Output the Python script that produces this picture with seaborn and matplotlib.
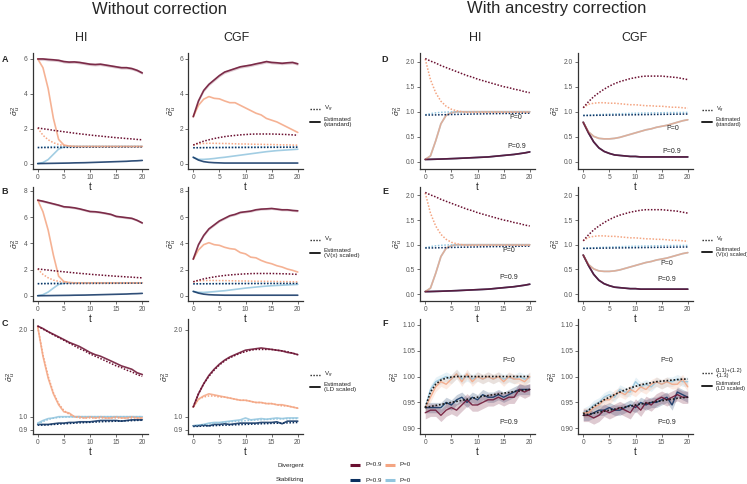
import numpy as np
import pandas as pd
import matplotlib
matplotlib.use("Agg")
import matplotlib.pyplot as plt
import seaborn as sns
from matplotlib.lines import Line2D

sns.set_theme(style="ticks")
plt.rcParams['font.family'] = ['Liberation Sans', 'DejaVu Sans']
plt.rcParams['mathtext.fontset'] = 'custom'
plt.rcParams['mathtext.rm'] = 'Liberation Sans'
plt.rcParams['mathtext.it'] = 'Liberation Sans:italic'

# ---------------- data ----------------
T = list(range(21))

# true genetic variance V_g (shared across rows)
HI_VG_DIV9 = [2.06,2.01,1.97,1.92,1.88,1.84,1.80,1.76,1.72,1.69,1.65,1.62,1.59,1.56,1.53,1.50,1.48,1.45,1.43,1.40,1.38]
HI_VG_DIV0 = [2.05,1.64,1.38,1.21,1.11,1.05,1.02,1.00,0.99,0.99,0.99,0.99,0.99,0.99,0.99,0.99,0.99,0.99,0.99,0.99,0.99]
HI_VG_STAB9 = [0.935,0.935,0.937,0.94,0.942,0.945,0.947,0.95,0.952,0.954,0.956,0.958,0.96,0.962,0.963,0.965,0.966,0.968,0.969,0.971,0.972]
HI_VG_STAB0 = [0.94,0.962,0.978,0.988,0.994,0.997,0.998,0.999,1.0,1.0,1.0,1.0,1.0,1.0,1.0,1.0,1.0,1.0,1.0,1.0,1.0]
CGF_VG_DIV9 = [1.08,1.2,1.3,1.38,1.45,1.51,1.56,1.6,1.63,1.66,1.68,1.7,1.71,1.71,1.71,1.71,1.7,1.69,1.68,1.66,1.64]
CGF_VG_DIV0 = [1.08,1.15,1.17,1.18,1.18,1.17,1.17,1.16,1.15,1.14,1.14,1.13,1.12,1.12,1.11,1.11,1.1,1.09,1.09,1.08,1.07]
CGF_VG_STAB9 = [0.925,0.926,0.928,0.93,0.931,0.933,0.934,0.936,0.937,0.939,0.94,0.942,0.943,0.945,0.946,0.948,0.949,0.95,0.952,0.953,0.955]
CGF_VG_STAB0 = [0.928,0.933,0.938,0.943,0.948,0.952,0.956,0.96,0.963,0.966,0.969,0.972,0.974,0.976,0.978,0.98,0.982,0.983,0.984,0.985,0.986]

# A: estimated (standard)
A_HI_DIV9 = [6.0,6.0,5.97,5.95,5.92,5.85,5.82,5.83,5.8,5.75,5.7,5.68,5.7,5.65,5.6,5.55,5.5,5.5,5.45,5.35,5.2]
A_HI_DIV0 = [6.0,5.5,4.3,2.6,1.4,1.08,1.02,1.0,1.0,1.0,1.0,1.0,1.0,1.0,1.0,1.0,1.0,1.0,1.0,1.0,1.0]
A_HI_STAB9 = [0.02,0.025,0.03,0.035,0.04,0.045,0.05,0.06,0.065,0.07,0.08,0.09,0.1,0.11,0.12,0.13,0.14,0.15,0.17,0.18,0.2]
A_HI_STAB0 = [0.02,0.08,0.25,0.55,0.85,0.97,1.0,1.0,1.0,1.0,1.0,1.0,1.0,1.0,1.0,1.0,1.0,1.0,1.0,1.0,1.0]
A_CGF_DIV9 = [2.7,3.6,4.2,4.55,4.8,5.05,5.25,5.35,5.45,5.55,5.6,5.65,5.72,5.78,5.85,5.8,5.78,5.75,5.78,5.8,5.72]
A_CGF_DIV0 = [2.7,3.35,3.7,3.85,3.75,3.72,3.6,3.5,3.5,3.35,3.2,3.05,2.9,2.8,2.6,2.5,2.4,2.25,2.1,1.95,1.8]
A_CGF_STAB9 = [0.38,0.22,0.13,0.09,0.07,0.06,0.05,0.05,0.05,0.05,0.05,0.05,0.05,0.05,0.05,0.05,0.05,0.05,0.05,0.05,0.05]
A_CGF_STAB0 = [0.38,0.26,0.26,0.28,0.31,0.35,0.38,0.42,0.46,0.5,0.54,0.58,0.62,0.66,0.7,0.73,0.76,0.78,0.8,0.82,0.84]

# B: estimated (V(x) scaled)
B_HI_DIV9 = [7.28,7.2,7.1,7.0,6.9,6.78,6.75,6.7,6.62,6.52,6.42,6.4,6.35,6.28,6.2,6.05,6.0,5.95,5.9,5.75,5.55]
B_HI_DIV0 = [7.28,6.4,5.0,3.1,1.5,1.1,1.02,1.0,1.0,1.0,1.0,1.0,1.0,1.0,1.0,1.0,1.0,1.0,1.0,1.0,1.0]
B_HI_STAB9 = [0.02,0.025,0.03,0.035,0.04,0.045,0.05,0.06,0.065,0.07,0.08,0.09,0.1,0.11,0.12,0.13,0.14,0.15,0.17,0.18,0.2]
B_HI_STAB0 = [0.02,0.1,0.3,0.6,0.88,0.97,1.0,1.0,1.0,1.0,1.0,1.0,1.0,1.0,1.0,1.0,1.0,1.0,1.0,1.0,1.0]
B_CGF_DIV9 = [2.8,3.9,4.6,5.1,5.4,5.7,5.9,6.1,6.2,6.35,6.4,6.45,6.55,6.6,6.62,6.65,6.6,6.55,6.55,6.5,6.47]
B_CGF_DIV0 = [2.8,3.5,3.9,4.05,3.9,3.85,3.7,3.6,3.55,3.3,3.2,2.95,2.9,2.7,2.55,2.45,2.3,2.2,2.05,1.95,1.82]
B_CGF_STAB9 = [0.35,0.22,0.14,0.1,0.08,0.07,0.06,0.06,0.06,0.06,0.06,0.06,0.06,0.06,0.06,0.06,0.06,0.06,0.06,0.06,0.06]
B_CGF_STAB0 = [0.35,0.28,0.27,0.3,0.33,0.37,0.4,0.45,0.5,0.55,0.6,0.64,0.68,0.72,0.75,0.78,0.8,0.82,0.84,0.86,0.88]

# C: estimated (LD scaled)
C_HI_DIV9 = [2.06,2.02,1.97,1.93,1.89,1.85,1.81,1.78,1.75,1.71,1.67,1.64,1.62,1.59,1.56,1.53,1.5,1.48,1.46,1.42,1.4]
C_HI_DIV0 = [2.05,1.62,1.36,1.2,1.1,1.04,1.03,1.0,1.0,0.99,1.0,0.99,1.0,0.99,0.99,1.0,0.99,0.99,1.0,0.99,0.99]
C_HI_STAB9 = [0.94,0.94,0.94,0.945,0.95,0.95,0.955,0.955,0.96,0.96,0.96,0.965,0.97,0.97,0.97,0.97,0.965,0.97,0.975,0.975,0.975]
C_HI_STAB0 = [0.95,0.97,0.985,0.99,1.0,1.0,1.0,1.0,1.0,1.0,1.0,1.0,1.0,1.0,1.0,1.0,1.0,1.0,1.0,1.0,1.0]
C_CGF_DIV9 = [1.08,1.2,1.3,1.39,1.46,1.52,1.57,1.61,1.64,1.67,1.7,1.71,1.72,1.73,1.72,1.71,1.7,1.69,1.67,1.66,1.64]
C_CGF_DIV0 = [1.08,1.15,1.18,1.2,1.19,1.18,1.17,1.16,1.15,1.14,1.14,1.13,1.12,1.12,1.11,1.11,1.1,1.1,1.09,1.08,1.07]
C_CGF_STAB9 = [0.93,0.93,0.935,0.93,0.94,0.94,0.945,0.94,0.945,0.95,0.95,0.95,0.95,0.955,0.955,0.955,0.96,0.945,0.965,0.965,0.965]
C_CGF_STAB0 = [0.93,0.935,0.94,0.95,0.955,0.955,0.96,0.965,0.97,0.975,0.99,0.975,0.98,0.985,0.98,0.985,0.99,0.985,0.99,0.99,0.99]

# D / E: estimated with ancestry correction (divergent and stabilizing coincide)
DE_HI_P0 = [0.05,0.12,0.42,0.76,0.93,0.98,1.0,1.0,1.0,1.0,1.0,1.0,1.0,1.0,1.0,1.0,1.0,1.0,1.0,1.0,1.0]
DE_HI_P9 = [0.05,0.052,0.055,0.058,0.062,0.066,0.07,0.075,0.08,0.085,0.09,0.095,0.1,0.11,0.12,0.13,0.14,0.15,0.165,0.18,0.2]
DE_CGF_P0 = [0.79,0.6,0.51,0.47,0.46,0.46,0.47,0.49,0.52,0.55,0.58,0.61,0.64,0.66,0.69,0.71,0.73,0.76,0.79,0.82,0.84]
DE_CGF_P9 = [0.79,0.58,0.4,0.28,0.21,0.17,0.14,0.13,0.12,0.11,0.11,0.1,0.1,0.1,0.1,0.1,0.1,0.1,0.1,0.1,0.1]

# F: theory (1.1)+(1.2)-(1.3) and LD-scaled estimates
F_HI_TH0 = [0.94,0.97,0.985,0.993,0.997,0.999,1.0,1.0,1.0,1.0,1.0,1.0,1.0,1.0,1.0,1.0,1.0,1.0,1.0,1.0,1.0]
F_HI_TH9 = [0.94,0.942,0.944,0.946,0.948,0.95,0.952,0.954,0.956,0.958,0.96,0.962,0.963,0.965,0.966,0.968,0.969,0.971,0.972,0.974,0.975]
F_HI_DIV9 = [0.93,0.935,0.935,0.925,0.935,0.94,0.935,0.945,0.955,0.945,0.945,0.95,0.955,0.955,0.96,0.955,0.96,0.96,0.975,0.97,0.975]
F_HI_DIV0 = [0.94,0.96,0.98,0.99,0.985,0.995,1.005,0.99,1.005,0.99,1.0,0.995,1.0,0.995,1.0,0.99,1.0,0.995,0.995,0.99,1.0]
F_HI_STAB9 = [0.94,0.94,0.94,0.94,0.95,0.945,0.955,0.96,0.95,0.96,0.955,0.965,0.96,0.96,0.965,0.96,0.965,0.97,0.975,0.975,0.975]
F_HI_STAB0 = [0.94,0.975,0.99,0.995,1.0,0.995,1.005,0.995,1.0,0.995,1.0,0.995,1.0,0.995,1.0,0.995,0.998,0.995,1.0,0.995,0.998]
F_CGF_TH0 = [0.928,0.935,0.942,0.949,0.955,0.96,0.965,0.97,0.974,0.978,0.981,0.984,0.986,0.988,0.99,0.991,0.992,0.993,0.994,0.995,0.995]
F_CGF_TH9 = [0.925,0.927,0.929,0.931,0.933,0.935,0.937,0.939,0.941,0.943,0.945,0.947,0.948,0.95,0.952,0.953,0.955,0.956,0.958,0.959,0.96]
F_CGF_DIV9 = [0.925,0.925,0.92,0.925,0.935,0.93,0.935,0.94,0.935,0.93,0.945,0.935,0.95,0.945,0.955,0.96,0.955,0.96,0.965,0.96,0.96]
F_CGF_DIV0 = [0.93,0.93,0.94,0.945,0.955,0.955,0.965,0.97,0.965,0.975,0.97,0.98,0.975,0.985,0.99,0.985,0.99,0.985,0.985,0.995,0.98]
F_CGF_STAB9 = [0.925,0.925,0.93,0.935,0.935,0.94,0.935,0.935,0.94,0.945,0.94,0.95,0.945,0.95,0.95,0.955,0.96,0.945,0.97,0.965,0.96]
F_CGF_STAB0 = [0.93,0.935,0.945,0.95,0.96,0.965,0.96,0.975,0.97,0.97,0.99,0.98,0.985,0.98,0.99,0.985,0.99,0.99,0.995,0.99,0.99]
F_BAND = {"div9": 0.012, "div0": 0.009, "stab9": 0.010, "stab0": 0.009}
AB_BAND_DIV9 = 0.08

LABELS_DIV = ["P=0.9", "P=0"]
COL_TITLES = ["HI", "CGF", "HI", "CGF"]

# ---------------- style ----------------
C_DIV9 = "#6a0f30"
C_DIV0 = "#F4A582"
C_STAB9 = "#0b3060"
C_STAB0 = "#92C5DE"
COLORS = {"div9": C_DIV9, "div0": C_DIV0, "stab9": C_STAB9, "stab0": C_STAB0}
DOT = (0, (1, 1.1))

W, H = 747, 484
fig = plt.figure(figsize=(W / 100, H / 100), dpi=100)


def px_axes(left, top, width, height):
    ax = fig.add_axes([left / W, 1 - (top + height) / H, width / W, height / H])
    ax.patch.set_alpha(0)
    return ax


def fx(x):
    return x / W


def fy(y):
    return 1 - y / H


def line(ax, y, color, ls="-", lw=1.1, alpha=1.0, band=None, z=2):
    df = pd.DataFrame({"t": T, "v": y})
    if band is not None:
        arr = np.asarray(y)
        ax.fill_between(T, arr - band, arr + band, color=color, alpha=0.22, lw=0, zorder=z - 0.5)
    sns.lineplot(data=df, x="t", y="v", ax=ax, color=color, linestyle=ls, lw=lw,
                 alpha=alpha, zorder=z, legend=False)


def style_axes(ax, ylim, yticks, ylabels, log=False):
    if log:
        ax.set_yscale("log")
    ax.set_xlim(-1, 21)
    ax.set_ylim(*ylim)
    ax.set_xticks([0, 5, 10, 15, 20])
    ax.set_yticks(yticks)
    ax.set_yticklabels(ylabels)
    ax.minorticks_off()
    sns.despine(ax=ax)
    for s in ("left", "bottom"):
        ax.spines[s].set_color("#333333")
        ax.spines[s].set_linewidth(0.9)
    ax.tick_params(length=2, width=0.6, color="#555555", labelsize=4.8,
                   labelcolor="#555555", pad=1.5)
    ax.set_xlabel("t", fontsize=7, labelpad=0.5)
    ax.set_ylabel(r"$\hat{\sigma}^2_u$", fontsize=6, labelpad=0.5)


COL_LEFT = [32.5, 188, 420, 578]
AX_W = 115
ROWS = [(53, 116), (187, 114), (319, 115)]

Y_A = ((-0.29, 6.34), [0, 2, 4, 6], ["0", "2", "4", "6"])
Y_B = ((-0.38, 8.28), [0, 2, 4, 6, 8], ["0", "2", "4", "6", "8"])
Y_C = ((0.871, 2.18), [0.9, 1.0, 2.0], ["0.9", "1.0", "2.0"])
Y_DE = ((-0.14, 2.17), [0, 0.5, 1.0, 1.5, 2.0], ["0.0", "0.5", "1.0", "1.5", "2.0"])
Y_F = ((0.889, 1.111), [0.9, 0.95, 1.0, 1.05, 1.1], ["0.90", "0.95", "1.00", "1.05", "1.10"])

VG = {
    0: {"div9": HI_VG_DIV9, "div0": HI_VG_DIV0, "stab9": HI_VG_STAB9, "stab0": HI_VG_STAB0},
    1: {"div9": CGF_VG_DIV9, "div0": CGF_VG_DIV0, "stab9": CGF_VG_STAB9, "stab0": CGF_VG_STAB0},
}
EST_LEFT = {
    (0, 0): {"div9": A_HI_DIV9, "div0": A_HI_DIV0, "stab9": A_HI_STAB9, "stab0": A_HI_STAB0},
    (0, 1): {"div9": A_CGF_DIV9, "div0": A_CGF_DIV0, "stab9": A_CGF_STAB9, "stab0": A_CGF_STAB0},
    (1, 0): {"div9": B_HI_DIV9, "div0": B_HI_DIV0, "stab9": B_HI_STAB9, "stab0": B_HI_STAB0},
    (1, 1): {"div9": B_CGF_DIV9, "div0": B_CGF_DIV0, "stab9": B_CGF_STAB9, "stab0": B_CGF_STAB0},
    (2, 0): {"div9": C_HI_DIV9, "div0": C_HI_DIV0, "stab9": C_HI_STAB9, "stab0": C_HI_STAB0},
    (2, 1): {"div9": C_CGF_DIV9, "div0": C_CGF_DIV0, "stab9": C_CGF_STAB9, "stab0": C_CGF_STAB0},
}
YSPEC_LEFT = [Y_A, Y_B, Y_C]
ORDER = ["stab0", "stab9", "div0", "div9"]

# ---- left block: without correction ----
for r in range(3):
    for c in range(2):
        top, h = ROWS[r]
        ax = px_axes(COL_LEFT[c], top, AX_W, h)
        est = EST_LEFT[(r, c)]
        for k in ORDER:
            band = AB_BAND_DIV9 if (k == "div9" and r < 2) else None
            line(ax, est[k], COLORS[k], lw=1.2, alpha=0.85, band=band, z=2)
        for k in ORDER:
            line(ax, VG[c][k], COLORS[k], ls=DOT, lw=1.1, z=3)
        ylim, yt, yl = YSPEC_LEFT[r]
        style_axes(ax, ylim, yt, yl, log=(r == 2))

# ---- right block: with ancestry correction ----
DE_EST = {0: (DE_HI_P0, DE_HI_P9), 1: (DE_CGF_P0, DE_CGF_P9)}
DE_TXT = {
    (0, 0): ((17.3, 0.88), (17.5, 0.31)),
    (0, 1): ((17.1, 0.67), (17.0, 0.21)),
    (1, 0): ((16.0, 0.89), (16.0, 0.33)),
    (1, 1): ((15.9, 0.62), (15.9, 0.29)),
}
for r in range(2):
    for c in range(2):
        top, h = ROWS[r]
        ax = px_axes(COL_LEFT[c + 2], top, AX_W, h)
        p0, p9 = DE_EST[c]
        line(ax, p0, C_STAB0, lw=1.2, alpha=0.9)
        line(ax, p9, C_STAB9, lw=1.2, alpha=0.9)
        line(ax, p0, C_DIV0, lw=1.2, alpha=0.75)
        line(ax, p9, C_DIV9, lw=1.2, alpha=0.75)
        for k in ORDER:
            line(ax, VG[c][k], COLORS[k], ls=DOT, lw=1.1, z=3)
        style_axes(ax, *Y_DE)
        (x0, y0), (x9, y9) = DE_TXT[(r, c)]
        ax.text(x0, y0, "P=0", fontsize=5, ha="center", va="center")
        ax.text(x9, y9, "P=0.9", fontsize=5, ha="center", va="center")

F_EST = {
    0: {"div9": F_HI_DIV9, "div0": F_HI_DIV0, "stab9": F_HI_STAB9, "stab0": F_HI_STAB0},
    1: {"div9": F_CGF_DIV9, "div0": F_CGF_DIV0, "stab9": F_CGF_STAB9, "stab0": F_CGF_STAB0},
}
F_TH = {0: (F_HI_TH0, F_HI_TH9), 1: (F_CGF_TH0, F_CGF_TH9)}
for c in range(2):
    top, h = ROWS[2]
    ax = px_axes(COL_LEFT[c + 2], top, AX_W, h)
    for k in ORDER:
        line(ax, F_EST[c][k], COLORS[k], lw=1.0, alpha=0.85, band=F_BAND[k])
    for th in F_TH[c]:
        line(ax, th, "#1a1a1a", ls=DOT, lw=1.2, z=4)
    style_axes(ax, *Y_F)
    ax.text(16, 1.03, "P=0", fontsize=5, ha="center", va="center")
    ax.text(16, 0.912, "P=0.9", fontsize=5, ha="center", va="center")

# ---------------- titles ----------------
fig.text(fx(160), fy(9), "Without correction", fontsize=12, ha="center", va="center")
fig.text(fx(557), fy(9), "With ancestry correction", fontsize=12, ha="center", va="center")
for xc, t in zip([81, 237, 475, 635], COL_TITLES):
    fig.text(fx(xc), fy(38), t, fontsize=9, ha="center", va="center")
for (x, y, s) in [(5, 59, "A"), (5, 192, "B"), (5, 323, "C"),
                  (385, 60, "D"), (385, 192, "E"), (385, 323, "F")]:
    fig.text(fx(x), fy(y), s, fontsize=6.5, fontweight="bold", ha="center", va="center")

# ---------------- per-row legends ----------------
def row_legend(x0, y_dot, y_solid, dot_label, solid_label, fs=4.5):
    fig.add_artist(Line2D([fx(x0), fx(x0 + 10)], [fy(y_dot), fy(y_dot)],
                          transform=fig.transFigure, color="#222222", lw=1.0, ls=DOT))
    fig.add_artist(Line2D([fx(x0), fx(x0 + 10)], [fy(y_solid), fy(y_solid)],
                          transform=fig.transFigure, color="#222222", lw=1.4))
    fig.text(fx(x0 + 14), fy(y_dot), dot_label, fontsize=fs, ha="left", va="center",
             linespacing=1.0)
    fig.text(fx(x0 + 14), fy(y_solid), solid_label, fontsize=fs, ha="left", va="center",
             linespacing=1.0)


VG_LABEL = r"V$_g$"
row_legend(310, 109, 122, VG_LABEL, "Estimated\n(standard)")
row_legend(310, 240, 253, VG_LABEL, "Estimated\n(V(x) scaled)")
row_legend(310, 375, 387, VG_LABEL, "Estimated\n(LD scaled)")
row_legend(702, 110, 122, VG_LABEL, "Estimated\n(standard)", fs=4.1)
row_legend(702, 240, 252, VG_LABEL, "Estimated\n(V(x) scaled)", fs=4.1)
row_legend(702, 373, 386, "(1.1)+(1.2)\n-(1.3)", "Estimated\n(LD scaled)", fs=4.1)

# ---------------- bottom legend ----------------
def key_row(y, name, c9, c0):
    fig.text(fx(304), fy(y), name, fontsize=4.5, ha="right", va="center")
    fig.add_artist(Line2D([fx(350), fx(360)], [fy(y), fy(y)], transform=fig.transFigure,
                          color=c9, lw=2.2, solid_capstyle="butt"))
    fig.text(fx(365), fy(y), LABELS_DIV[0], fontsize=4.5, ha="left", va="center")
    fig.add_artist(Line2D([fx(385), fx(395)], [fy(y), fy(y)], transform=fig.transFigure,
                          color=c0, lw=2.2, solid_capstyle="butt"))
    fig.text(fx(400), fy(y), LABELS_DIV[1], fontsize=4.5, ha="left", va="center")


key_row(465, "Divergent", C_DIV9, C_DIV0)
key_row(480, "Stabilizing", C_STAB9, C_STAB0)

fig.savefig("out.png", dpi=100)
